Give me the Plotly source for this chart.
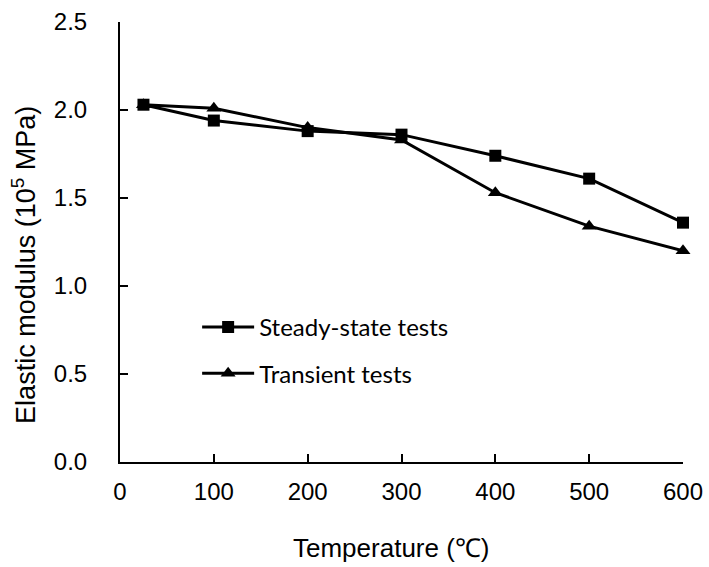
import plotly.graph_objects as go

temps = [25, 100, 200, 300, 400, 500, 600]
steady = [2.03, 1.94, 1.88, 1.86, 1.74, 1.61, 1.36]
transient = [2.03, 2.01, 1.90, 1.83, 1.53, 1.34, 1.20]

x_title = "Temperature (℃)"
y_title = "Elastic modulus (10<sup>5</sup> MPa)"

fig = go.Figure()
fig.add_trace(go.Scatter(x=temps, y=steady, mode="lines+markers", name="Steady-state tests",
                         legendgroup="a",
                         line=dict(color="black", width=3),
                         marker=dict(symbol="square", size=12, color="black"),
                         cliponaxis=False))
fig.add_trace(go.Scatter(x=temps, y=transient, mode="lines+markers", name="Transient tests",
                         legendgroup="b",
                         line=dict(color="black", width=3),
                         marker=dict(symbol="triangle-up", size=13, color="black"),
                         cliponaxis=False))

axis_font = dict(family="Liberation Sans", size=24, color="black")
title_font = dict(family="Liberation Sans", size=26, color="black")
fig.update_layout(
    width=709, height=567,
    margin=dict(l=120, r=26, t=22, b=105, autoexpand=False),
    paper_bgcolor="white", plot_bgcolor="white",
    font=axis_font,
    showlegend=True,
    legend=dict(x=0.137, y=0.357, xanchor="left", yanchor="top",
                font=dict(family="Lato", size=24, color="black"),
                itemwidth=52,
                bgcolor="rgba(0,0,0,0)", traceorder="grouped", tracegroupgap=12),
    xaxis=dict(range=[0, 600], tick0=0, dtick=100, showline=True, linecolor="black", linewidth=2,
               ticks="inside", ticklen=8, tickwidth=2, tickcolor="black", showgrid=False,
               zeroline=False, tickfont=axis_font, ticklabelstandoff=7, automargin=False),
    yaxis=dict(range=[0, 2.5], tick0=0, dtick=0.5, tickformat=".1f", showline=True,
               linecolor="black", linewidth=2, ticks="inside", ticklen=8, tickwidth=2,
               tickcolor="black", showgrid=False, zeroline=False, tickfont=axis_font,
               ticklabelstandoff=26, automargin=False),
    annotations=[
        dict(text=x_title, xref="paper", yref="paper", x=0.483, y=-0.195,
             xanchor="center", yanchor="middle", showarrow=False, font=title_font),
        dict(text=y_title, xref="paper", yref="paper", x=-0.1705, y=0.448,
             xanchor="center", yanchor="middle", textangle=-90, showarrow=False,
             font=dict(family="Liberation Sans", size=27, color="black")),
    ],
)

fig.write_html("out.html", config={"displayModeBar": False},
               post_script="document.body.style.margin='0px';")
